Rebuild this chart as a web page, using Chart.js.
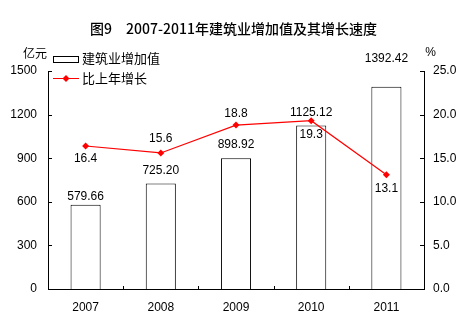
<!DOCTYPE html>
<html><head><meta charset="utf-8">
<script src="https://cdn.jsdelivr.net/npm/chart.js@4/dist/chart.umd.min.js"></script>
<style>html,body{margin:0;padding:0;background:#fff}#w{position:relative;width:467px;height:325px}</style>
</head><body><div id="w"><canvas id="c" width="467" height="325"></canvas></div>
<script>
const chartTitle = '图9　2007-2011年建筑业增加值及其增长速度';
const years = ['2007', '2008', '2009', '2010', '2011'];
const addedValue = [579.66, 725.20, 898.92, 1125.12, 1392.42];
const addedValueLabels = ['579.66', '725.20', '898.92', '1125.12', '1392.42'];
const growth = [16.4, 15.6, 18.8, 19.3, 13.1];
const growthLabels = ['16.4', '15.6', '18.8', '19.3', '13.1'];
const leftTicks = [0, 300, 600, 900, 1200, 1500];
const rightTicks = [0, 5, 10, 15, 20, 25];
const seriesNames = ['建筑业增加值', '比上年增长'];
const unitLeft = '亿元';
const unitRight = '%';

const NUM_FONT = '12px "Liberation Sans", Arial, sans-serif';
const CJK_FONT = '13px "Noto Sans CJK SC", sans-serif';
// label offsets (px) from marks, styling only
const barLabelOffset = [-8, -12.5, -14, -13, -27.5];
const lineLabelOffset = [13, -14, -11.5, 14, 14];

const decor = {
  id: 'decor',
  afterDraw(chart) {
    const ctx = chart.ctx;
    const ca = chart.chartArea;
    const x = chart.scales.x, y = chart.scales.y, y1 = chart.scales.y1;
    ctx.save();
    ctx.fillStyle = '#000';
    ctx.strokeStyle = '#000';
    ctx.lineWidth = 1;
    // title
    ctx.font = '500 14px "Noto Sans CJK SC", sans-serif';
    ctx.textAlign = 'center'; ctx.textBaseline = 'middle';
    ctx.fillText(chartTitle, 233.5, 29);
    // units
    ctx.font = '12px "Noto Sans CJK SC", sans-serif';
    ctx.textAlign = 'right';
    ctx.fillText(unitLeft, 47, 53);
    ctx.font = NUM_FONT; ctx.textAlign = 'center';
    ctx.fillText(unitRight, 430.5, 53);
    // inward ticks
    ctx.beginPath();
    leftTicks.forEach(v => { const p = Math.round(y.getPixelForValue(v)) + 0.5; ctx.moveTo(ca.left, p); ctx.lineTo(ca.left + 4, p); });
    rightTicks.forEach(v => { const p = Math.round(y1.getPixelForValue(v)) + 0.5; ctx.moveTo(ca.right - 4, p); ctx.lineTo(ca.right, p); });
    for (let i = 1; i < years.length; i++) {
      const p = Math.round((x.getPixelForValue(i - 1) + x.getPixelForValue(i)) / 2) + 0.5;
      ctx.moveTo(p, ca.bottom); ctx.lineTo(p, ca.bottom - 3);
    }
    ctx.stroke();
    // legend
    ctx.fillStyle = '#fff';
    ctx.fillRect(53, 56, 25, 6);
    ctx.strokeRect(53.5, 56.5, 25, 6);
    ctx.fillStyle = '#000';
    ctx.font = CJK_FONT; ctx.textAlign = 'left'; ctx.textBaseline = 'middle';
    ctx.fillText(seriesNames[0], 82, 58);
    ctx.fillText(seriesNames[1], 82, 78);
    ctx.strokeStyle = '#ff0000';
    ctx.beginPath(); ctx.moveTo(53, 78.5); ctx.lineTo(79, 78.5); ctx.stroke();
    ctx.fillStyle = '#ff0000';
    ctx.beginPath(); ctx.moveTo(66, 75); ctx.lineTo(69.5, 78.5); ctx.lineTo(66, 82); ctx.lineTo(62.5, 78.5); ctx.closePath(); ctx.fill();
    // data labels
    ctx.fillStyle = '#000';
    ctx.font = NUM_FONT; ctx.textAlign = 'center'; ctx.textBaseline = 'middle';
    const lm = chart.getDatasetMeta(0), bm = chart.getDatasetMeta(1);
    bm.data.forEach((el, i) => ctx.fillText(addedValueLabels[i], el.x, el.y + barLabelOffset[i]));
    lm.data.forEach((el, i) => ctx.fillText(growthLabels[i], el.x, el.y + lineLabelOffset[i]));
    ctx.restore();
  }
};

new Chart(document.getElementById('c'), {
  data: {
    labels: years,
    datasets: [
      { type: 'line', label: seriesNames[1], data: growth, yAxisID: 'y1', borderColor: '#ff0000', backgroundColor: '#ff0000', borderWidth: 1.2, pointStyle: 'rectRot', pointRadius: 3.5, pointBorderWidth: 0, tension: 0, order: 0 },
      { type: 'bar', label: seriesNames[0], data: addedValue, yAxisID: 'y', backgroundColor: '#ffffff', borderColor: '#000000', borderWidth: 1, barPercentage: 0.4, categoryPercentage: 1, order: 1 }
    ]
  },
  options: {
    responsive: false, animation: false, devicePixelRatio: 1,
    layout: { padding: { top: 71, left: 0, right: 0, bottom: 0 } },
    plugins: { legend: { display: false }, title: { display: false }, tooltip: { enabled: false } },
    scales: {
      x: {
        grid: { display: false, drawTicks: false },
        border: { display: true, color: '#000', width: 1 },
        ticks: { color: '#000', font: { family: '"Liberation Sans", Arial, sans-serif', size: 12 }, padding: 11, maxRotation: 0 },
        afterFit(s) { s.height = 36; }
      },
      y: {
        position: 'left', min: 0, max: 1500,
        grid: { display: false, drawTicks: false },
        border: { display: true, color: '#000', width: 1 },
        afterBuildTicks(s) { s.ticks = leftTicks.map(v => ({ value: v })); },
        ticks: { color: '#000', font: { family: '"Liberation Sans", Arial, sans-serif', size: 12 }, padding: 11, callback: v => String(v) },
        afterFit(s) { s.width = 48; }
      },
      y1: {
        position: 'right', min: 0, max: 25,
        grid: { display: false, drawTicks: false },
        border: { display: true, color: '#000', width: 1 },
        afterBuildTicks(s) { s.ticks = rightTicks.map(v => ({ value: v })); },
        ticks: { color: '#000', font: { family: '"Liberation Sans", Arial, sans-serif', size: 12 }, padding: 9, callback: v => Number(v).toFixed(1) },
        afterFit(s) { s.width = 43; }
      }
    }
  },
  plugins: [decor]
});
</script>
</body></html>
